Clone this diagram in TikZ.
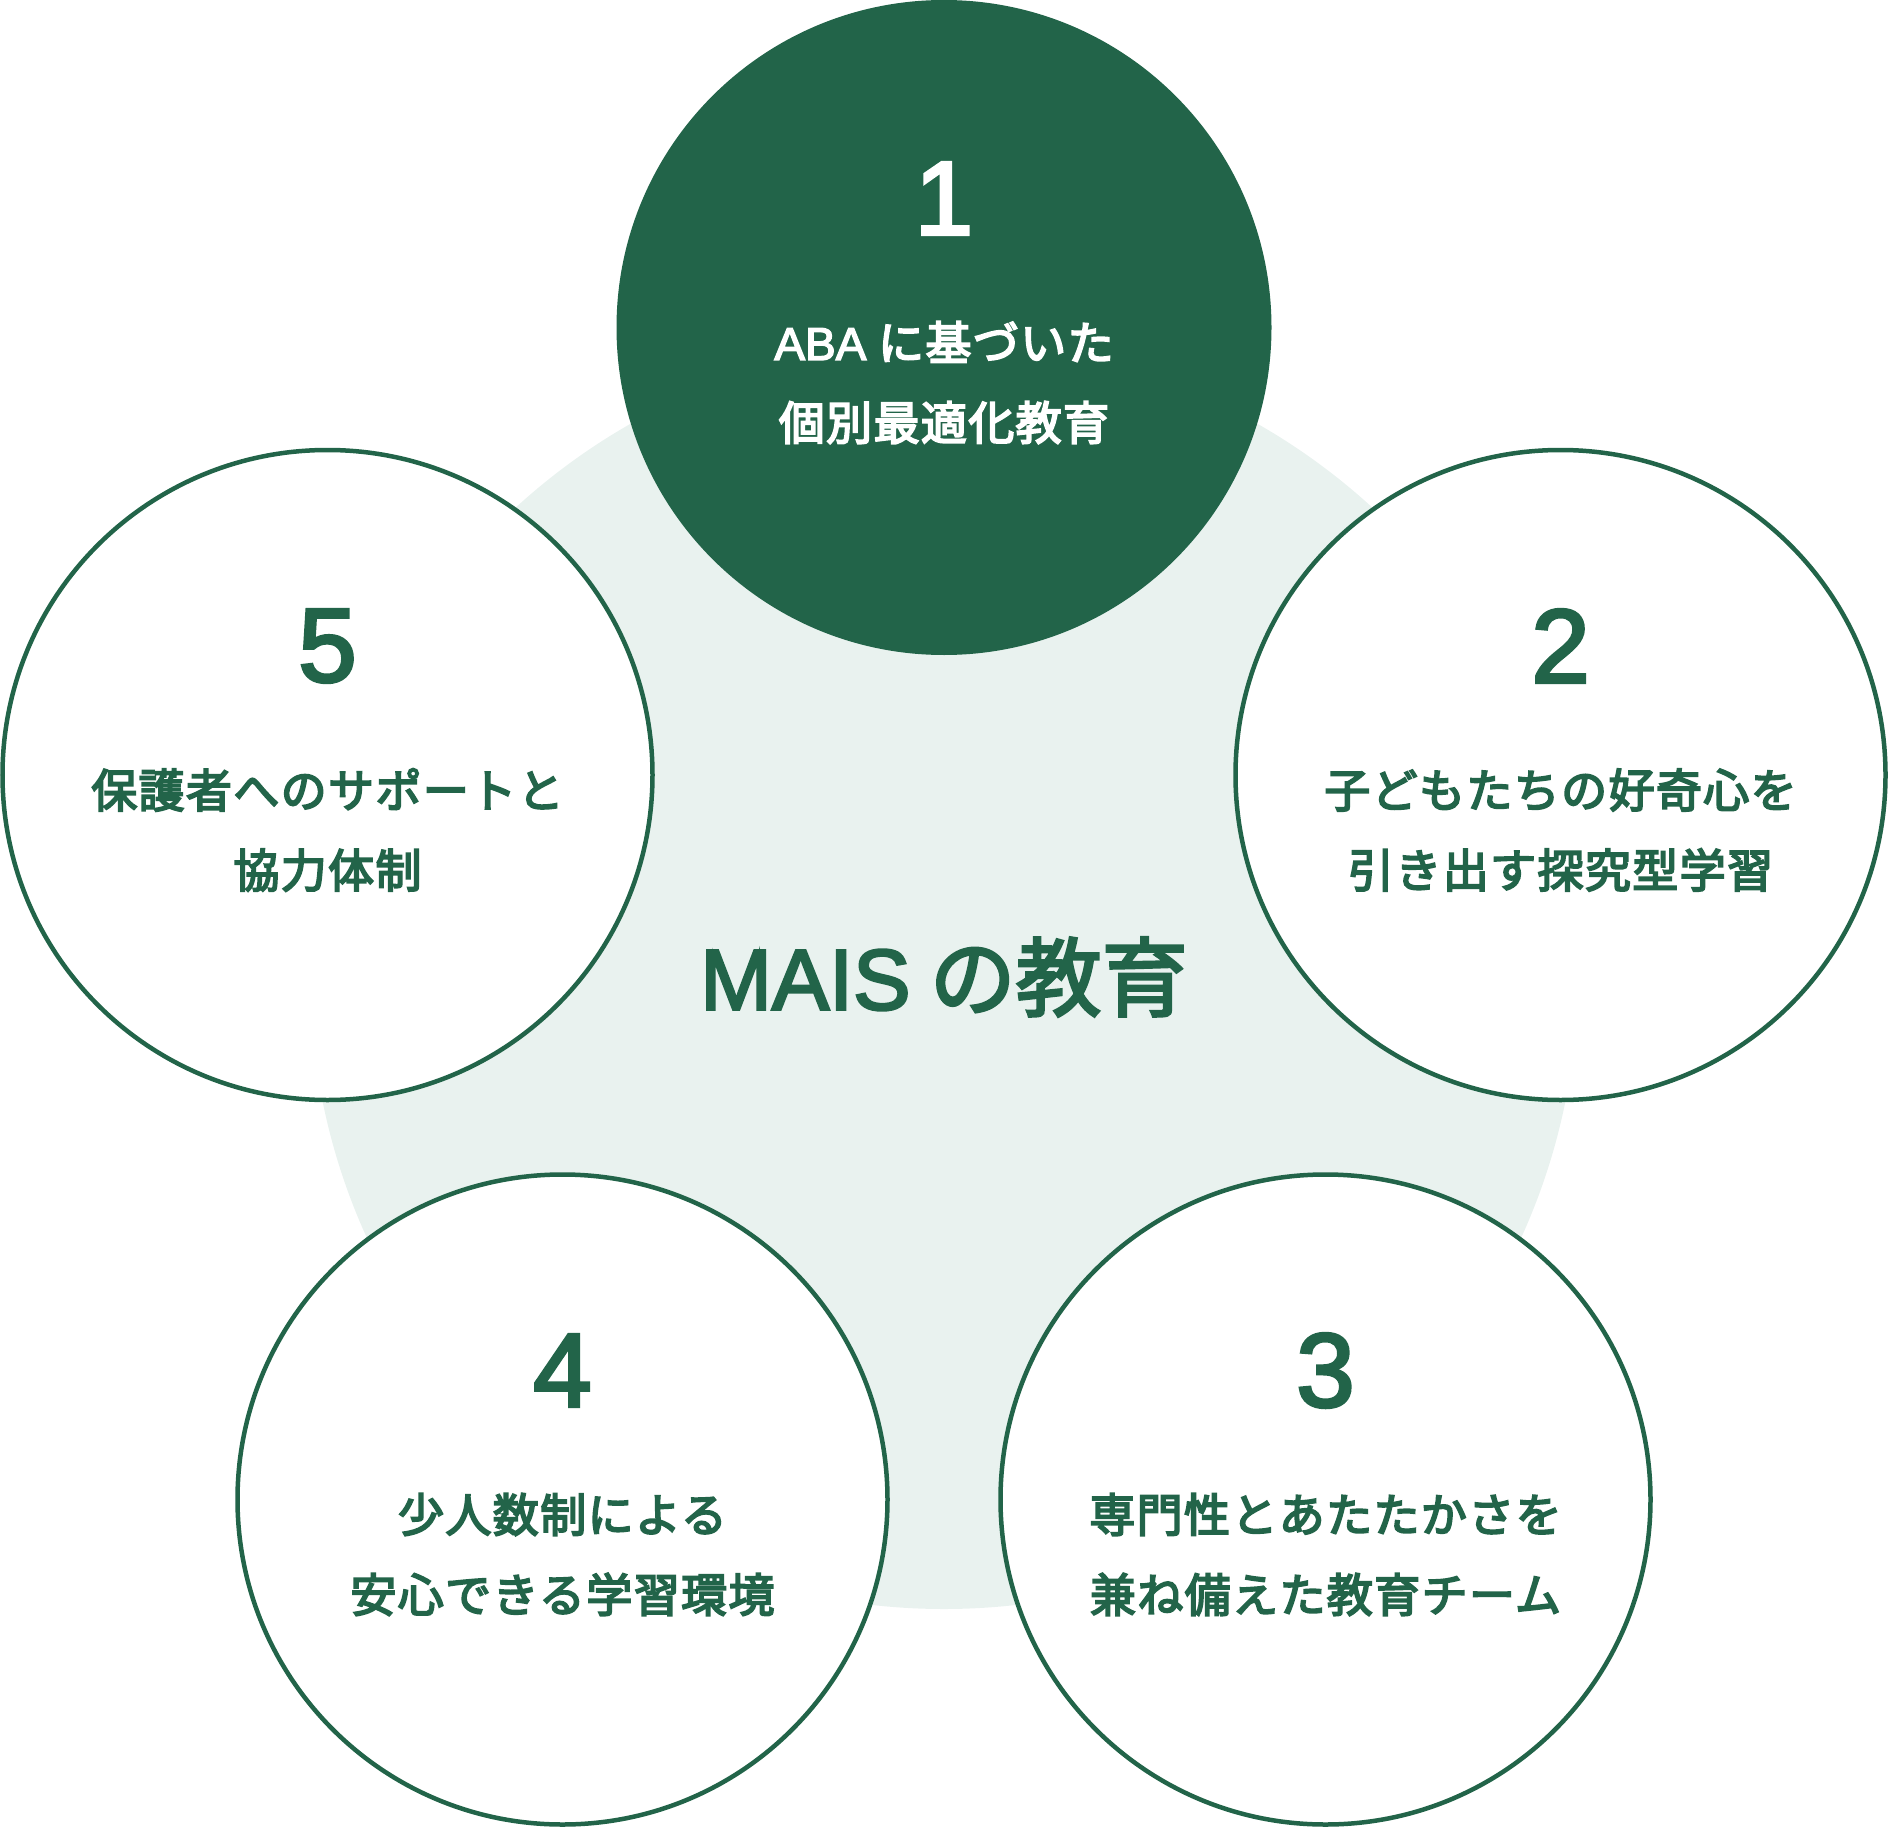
\documentclass[tikz,border=0pt]{standalone}
\usepackage{fontspec}
\setmainfont{Noto Sans CJK JP}[FakeBold=4,LetterSpace=3]
\newfontfamily\latinfont{Liberation Sans}[FakeBold=3]
\newfontfamily\centrefont{Noto Sans CJK JP}[FakeBold=3]
\usepackage{tikz}
\definecolor{maisgreen}{HTML}{226449}
\definecolor{maislight}{HTML}{E9F2EF}
\tikzset{
  pillar/.style={
    circle,draw=maisgreen,line width=4.5pt,fill=white,minimum size=650pt,inner sep=0pt,
  },
  pillarnum/.style={text=maisgreen,font=\latinfont\fontsize{105}{105}\selectfont},
  pillartext/.style={text=maisgreen,align=center,font=\fontsize{46}{80}\selectfont},
}

\begin{document}
\begin{tikzpicture}[x=1pt,y=1pt]
      \useasboundingbox (0,0) rectangle (1888,-1827);
      \fill[maislight] (944,-975) circle (634);

      \node[pillar,draw=none,fill=maisgreen,minimum size=655pt] (p1) at (944,-327.5) {};
      \node[pillar] (p2) at (1560.5,-775) {};
      \node[pillar] (p3) at (1325.5,-1499.5) {};
      \node[pillar] (p4) at (562.5,-1499.5) {};
      \node[pillar] (p5) at (327.5,-775) {};

      \node[text=maisgreen,font=\centrefont\fontsize{86}{86}\selectfont] (mais) at (944,-977) {{\latinfont MAIS} の教育};

      \node[pillarnum,text=white] (n1) at ([yshift=129pt]p1.center) {1};
      \node[pillartext,text=white] (t1) at ([yshift=-55pt]p1.center) {{\latinfont ABA} に基づいた\\個別最適化教育};
      \node[pillarnum] (n2) at ([yshift=129pt]p2.center) {2};
      \node[pillartext] (t2) at ([yshift=-55pt]p2.center) {子どもたちの好奇心を\\引き出す探究型学習};
      \node[pillarnum] (n3) at ([yshift=129pt]p3.center) {3};
      \node[pillartext] (t3) at ([yshift=-55pt]p3.center) {専門性とあたたかさを\\兼ね備えた教育チーム};
      \node[pillarnum] (n4) at ([yshift=129pt]p4.center) {4};
      \node[pillartext] (t4) at ([yshift=-55pt]p4.center) {少人数制による\\安心できる学習環境};
      \node[pillarnum] (n5) at ([yshift=129pt]p5.center) {5};
      \node[pillartext] (t5) at ([yshift=-55pt]p5.center) {保護者へのサポートと\\協力体制};
\end{tikzpicture}
\end{document}
